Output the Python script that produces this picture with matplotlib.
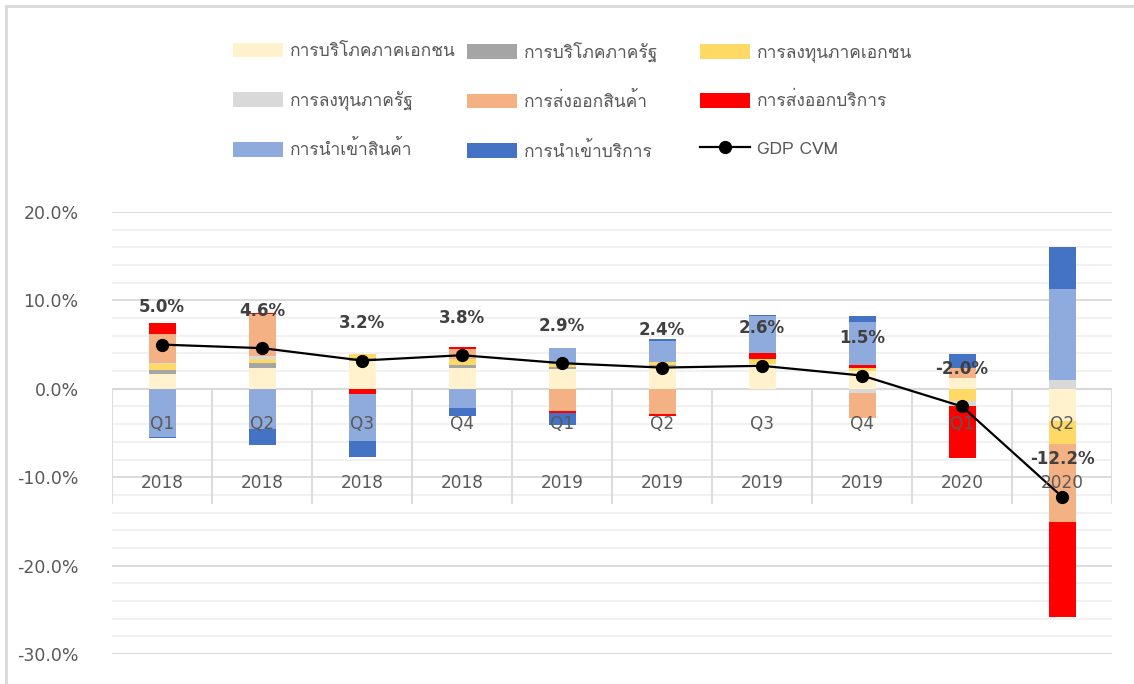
import numpy as np
import matplotlib
matplotlib.use("Agg")
import matplotlib.pyplot as plt
from matplotlib import font_manager
from matplotlib.ft2font import FT2Font
from matplotlib.patches import Patch
from matplotlib.lines import Line2D

# find any installed font with Thai glyphs
thai_font = None
for f in font_manager.fontManager.ttflist:
    try:
        if 0x0E01 in FT2Font(f.fname).get_charmap():
            thai_font = f.name
            break
    except Exception:
        pass

families = ["DejaVu Sans"]
if thai_font:
    families.append(thai_font)
plt.rcParams["font.family"] = families
legend_families = ([thai_font] if thai_font else []) + ["DejaVu Sans"]

quarters = ["Q1", "Q2", "Q3", "Q4", "Q1", "Q2", "Q3", "Q4", "Q1", "Q2"]
years = ["2018", "2018", "2018", "2018", "2019", "2019", "2019", "2019", "2020", "2020"]

series_names = ["การบริโภคภาคเอกชน", "การบริโภคภาครัฐ", "การลงทุนภาคเอกชน",
                "การลงทุนภาครัฐ", "การส่งออกสินค้า", "การส่งออกบริการ",
                "การนำเข้าสินค้า", "การนำเข้าบริการ"]
priv_cons = [1.7, 2.4, 3.2, 2.4, 2.2, 2.55, 2.75, 2.0, 1.25, -3.65]
gov_cons = [0.4, 0.5, 0.25, 0.25, 0.3, 0.1, 0.1, 0.05, 0.0, 0.0]
priv_inv = [0.65, 0.5, 0.5, 0.7, 0.35, 0.35, 0.5, 0.35, -1.4, -2.6]
gov_inv = [0.2, 0.3, 0.0, 0.0, 0.0, 0.0, 0.0, -0.5, -0.6, 0.95]
exp_goods = [3.2, 4.8, 0.0, 1.1, -2.5, -2.8, 0.0, -2.75, 1.1, -8.8]
exp_serv = [1.3, 0.1, -0.55, 0.3, -0.2, -0.25, 0.65, 0.3, -5.8, -10.8]
imp_goods = [-5.4, -4.6, -5.4, -2.2, 1.8, 2.4, 4.2, 4.8, 0.0, 10.3]
imp_serv = [-0.15, -1.8, -1.75, -0.9, -1.4, 0.2, 0.1, 0.75, 1.6, 4.8]
gdp = [5.0, 4.6, 3.2, 3.8, 2.9, 2.4, 2.6, 1.5, -2.0, -12.2]

colors = ["#FFF2CC", "#A5A5A5", "#FFD966", "#D9D9D9",
          "#F4B183", "#FF0000", "#8FAADC", "#4472C4"]
series = [priv_cons, gov_cons, priv_inv, gov_inv, exp_goods, exp_serv, imp_goods, imp_serv]

fig = plt.figure(figsize=(11.34, 6.84), dpi=100)
ax = fig.add_axes([112 / 1134, 1 - 654 / 684, 1000 / 1134, 442 / 684])

x = np.arange(len(quarters))
pos = np.zeros(len(x))
neg = np.zeros(len(x))
for vals, c in zip(series, colors):
    v = np.array(vals)
    bottom = np.where(v >= 0, pos, neg)
    ax.bar(x, v, bottom=bottom, width=0.27, color=c, zorder=3, linewidth=0)
    pos += np.where(v >= 0, v, 0)
    neg += np.where(v < 0, v, 0)

ax.plot(x, gdp, color="black", lw=1.6, marker="o", markersize=8.5, zorder=5)
for xi, g in zip(x, gdp):
    ax.annotate(f"{g:.1f}%", (xi, g), xytext=(0, 27), textcoords="offset points",
                ha="center", va="center", fontsize=12, fontweight="bold",
                color="#404040", zorder=6)

ax.set_xlim(-0.5, 9.5)
ax.set_ylim(-30, 20)

# gridlines
for yv in range(-30, 21, 2):
    major = yv % 10 == 0
    ax.axhline(yv, color="#D9D9D9" if major else "#F0F0F0", lw=1.3, zorder=1)
# category separators
for b in np.arange(-0.5, 10, 1):
    ax.plot([b, b], [0, -12.9], color="#D9D9D9", lw=1.3, zorder=2)
ax.axhline(0, color="#D9D9D9", lw=1.5, zorder=2)

for xi, q, yr in zip(x, quarters, years):
    ax.text(xi, -4.0, q, ha="center", va="center", fontsize=12.2, color="#595959", zorder=6)
    ax.text(xi, -10.6, yr, ha="center", va="center", fontsize=12.2, color="#595959", zorder=6)

ax.set_xticks([])
ax.set_yticks(range(-30, 21, 10))
ax.set_yticklabels([f"{t:.1f}%" for t in range(-30, 21, 10)], fontsize=12.5, color="#595959")
ax.tick_params(axis="y", length=0, pad=24)
for s in ax.spines.values():
    s.set_visible(False)

# legend: one legend per column so the columns sit where the reference has them
handles = [Patch(facecolor=c, edgecolor="none") for c in colors]
handles.append(Line2D([0], [0], color="black", lw=1.6, marker="o", markersize=8.5))
labels = series_names + ["GDP CVM"]
col_x = [233, 467, 700]
for ci, cx in enumerate(col_x):
    idx = [ci, ci + 3, ci + 6]
    leg = fig.legend([handles[i] for i in idx], [labels[i] for i in idx],
                     loc="center left", bbox_to_anchor=(cx / 1134, 1 - 101 / 684),
                     frameon=False, labelcolor="#595959",
                     prop={"family": legend_families, "size": 12.5},
                     handlelength=2.9, handleheight=0.92, handletextpad=0.4,
                     borderpad=0, borderaxespad=0, labelspacing=1.75)

# chart border (top & left visible)
fig.add_artist(Line2D([6 / 1134, 6 / 1134], [0, 1 - 6 / 684], color="#D9D9D9", lw=2))
fig.add_artist(Line2D([6 / 1134, 1], [1 - 6 / 684, 1 - 6 / 684], color="#D9D9D9", lw=2))

fig.savefig("out.png", dpi=100)
